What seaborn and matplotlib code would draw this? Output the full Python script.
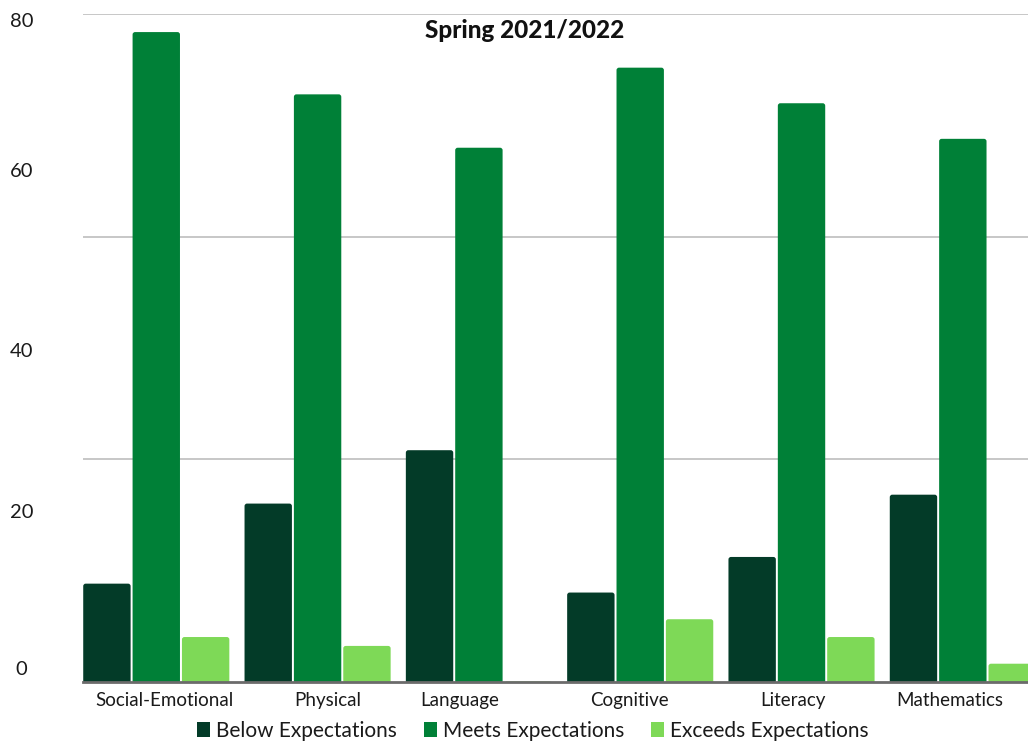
import numpy as np
import pandas as pd
import matplotlib
matplotlib.use("Agg")
import matplotlib.pyplot as plt
import matplotlib.transforms as mtransforms
from matplotlib.patches import FancyBboxPatch, Patch, Rectangle
import seaborn as sns

# Assessment results by developmental domain (% of students)
domains = ["Social-Emotional", "Physical", "Language", "Cognitive", "Literacy", "Mathematics"]
levels = ["Below Expectations", "Meets Expectations", "Exceeds Expectations"]
below = [11, 20, 26, 10, 14, 21]
meets = [73, 66, 60, 69, 65, 61]
exceeds = [5, 4, 0, 7, 5, 2]
colors = ["#033B28", "#008037", "#7ED957"]

y_tick_values = [1.5, 19.2, 37.3, 57.5, 74.4]
y_tick_labels = ["0", "20", "40", "60", "80"]
grid_values = [25, 50, 75]
x_label_shift_px = [8, 10, -19, -11, -9, -13]
title = "Spring 2021/2022"

df = pd.DataFrame({
    "domain": domains * 3,
    "level": np.repeat(levels, len(domains)),
    "pct": below + meets + exceeds,
})

sns.set_theme(style="white")
plt.rcParams["font.family"] = ["Lato", "DejaVu Sans"]

W, H, DPI = 10.28, 7.44, 100
fig = plt.figure(figsize=(W, H), dpi=DPI)
ax = fig.add_axes([0.081, 0.084, 0.919, 0.8968])

sns.barplot(data=df, x="domain", y="pct", hue="level", order=domains,
            hue_order=levels, palette=colors, saturation=1, width=0.918,
            gap=0.04, errorbar=None, legend=False, ax=ax)

xlim = (-0.4526, 5.404)
ylim = (0, 75)

# soften the bar tops with a small corner radius
pos = ax.get_position()
px_per_x = pos.width * W * DPI / (xlim[1] - xlim[0])
px_per_y = pos.height * H * DPI / (ylim[1] - ylim[0])
radius_px = 2.5
rx, ry = radius_px / px_per_x, radius_px / px_per_y
for p in list(ax.patches):
    if not isinstance(p, Rectangle):
        continue
    x, y, w, h = p.get_x(), p.get_y(), p.get_width(), p.get_height()
    rounded = FancyBboxPatch((x, y - ry), w, h + ry,
                             boxstyle=f"round,pad=0,rounding_size={rx}",
                             mutation_aspect=ry / rx,
                             facecolor=p.get_facecolor(), edgecolor="none",
                             zorder=p.get_zorder())
    ax.add_patch(rounded)
    p.remove()

ax.set_xlim(*xlim)
ax.set_ylim(*ylim)
ax.set_xlabel("")
ax.set_ylabel("")

for side in ["left", "right", "top"]:
    ax.spines[side].set_visible(False)
ax.spines["bottom"].set_color("#6b6b6b")
ax.spines["bottom"].set_linewidth(2)
ax.spines["bottom"].set_zorder(5)

# y labels and horizontal guide lines
ax.set_yticks(y_tick_values, y_tick_labels)
ax.set_yticks(grid_values, minor=True)
ax.tick_params(axis="y", which="major", length=0, pad=44.6,
               labelsize=14.5, labelcolor="#1a1a1a")
ax.tick_params(axis="y", which="minor", length=0)
for lbl in ax.get_yticklabels():
    lbl.set_horizontalalignment("center")
ax.yaxis.grid(False, which="major")
ax.yaxis.grid(True, which="minor", color="#bdbdbd", linewidth=1.2)
ax.set_axisbelow(True)

ax.tick_params(axis="x", length=0, pad=7.5, labelsize=13.5, labelcolor="#1a1a1a")
for lbl, dx in zip(ax.get_xticklabels(), x_label_shift_px):
    lbl.set_transform(lbl.get_transform() +
                      mtransforms.ScaledTranslation(dx / DPI, 0, fig.dpi_scale_trans))

fig.text(0.5102, 1 - 31 / 744, title, ha="center", va="center",
         fontsize=17.5, fontweight="black", color="#111111")

handles = [Patch(facecolor=c, edgecolor="none", label=l) for c, l in zip(colors, levels)]
fig.legend(handles=handles, loc="center", bbox_to_anchor=(533 / 1028, 1 - 731 / 744),
           ncol=3, frameon=False, fontsize=15, handlelength=0.6,
           handleheight=0.75, handletextpad=0.3, columnspacing=1.3,
           labelcolor="#1a1a1a")

fig.savefig("out.png", dpi=DPI)
